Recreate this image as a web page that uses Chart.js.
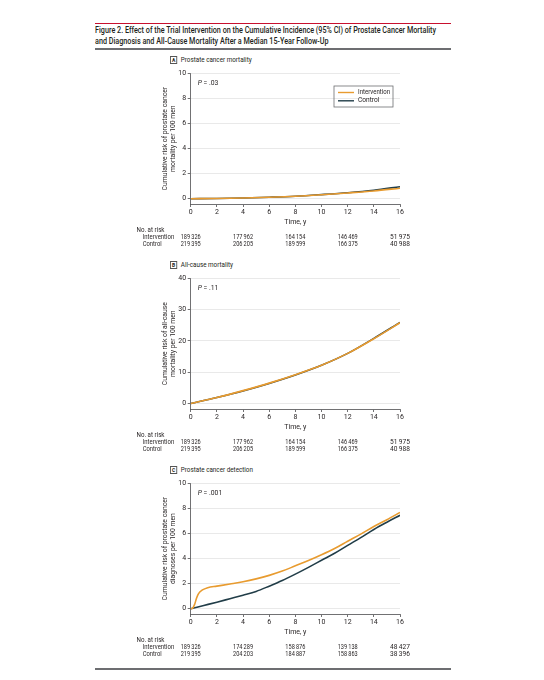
<!DOCTYPE html>
<html>
<head>
<meta charset="utf-8">
<script src="https://cdn.jsdelivr.net/npm/chart.js@4.4.1/dist/chart.umd.min.js"></script>
<style>
  html, body { margin: 0; padding: 0; background: #fff; }
  body {
    width: 544px; height: 680px; position: relative; overflow: hidden;
    font-family: Roboto, 'Liberation Sans', sans-serif;
    color: #231f20;
  }
  .rule { position: absolute; left: 95px; width: 356px; height: 1.5px; }
  .title { position: absolute; left: 95px; top: 25px; font-size: 8.8px; line-height: 11px; font-weight: 500; white-space: nowrap; transform-origin: 0 0; }
  .panel { position: absolute; left: 170px; font-size: 7px; line-height: 9px; white-space: nowrap; transform-origin: 0 50%; }
  .panel span.box {
    display: inline-block; width: 8px; height: 8px; border: 1px solid #555; box-sizing: border-box;
    font-weight: bold; font-size: 5.5px; line-height: 6.5px; text-align: center; margin-right: 4px; vertical-align: middle;
  }
  canvas { position: absolute; left: 0; }
</style>
</head>
<body>
<div class="rule" style="top:22.5px;background:#c8102e"></div>
<div class="title" id="title"><span id="line1">Figure 2. Effect of the Trial Intervention on the Cumulative Incidence (95% CI) of Prostate Cancer Mortality</span><br>and Diagnosis and All-Cause Mortality After a Median 15-Year Follow-Up</div>
<div class="rule" style="top:48px;background:#6d6e71"></div>

<div class="panel" style="top:56px"><span class="box">A</span>Prostate cancer mortality</div>
<div class="panel" style="top:261px"><span class="box">B</span>All-cause mortality</div>
<div class="panel" style="top:466px"><span class="box">C</span>Prostate cancer detection</div>

<canvas id="chartA" width="544" height="200" style="top:50px"></canvas>
<canvas id="chartB" width="544" height="200" style="top:255px"></canvas>
<canvas id="chartC" width="544" height="200" style="top:460px"></canvas>

<div class="rule" style="top:668px;background:#6d6e71"></div>

<script>
// ---- data ----
const riskTimes = [0, 4, 8, 12, 16]

// A: prostate cancer mortality
const mortYears = [0, 2, 4, 6, 8, 10, 12, 14, 16]
const mortIntervention = [0, 0.02, 0.06, 0.12, 0.2, 0.32, 0.46, 0.62, 0.84]
const mortControl = [0, 0.02, 0.06, 0.12, 0.2, 0.33, 0.48, 0.68, 0.96]
const mortRiskIntervention = [189326, 177962, 164154, 146469, 51975]
const mortRiskControl = [219395, 206205, 189599, 166375, 40988]

// B: all-cause mortality
const allYears = [0, 2, 4, 6, 8, 10, 12, 14, 16]
const allIntervention = [0, 1.9, 4.1, 6.5, 9.2, 12.2, 16.0, 20.7, 25.8]
const allControl = [0, 1.9, 4.0, 6.4, 9.1, 12.2, 16.0, 20.8, 25.9]
const allRiskIntervention = [189326, 177962, 164154, 146469, 51975]
const allRiskControl = [219395, 206205, 189599, 166375, 40988]

// C: prostate cancer detection
const detInterventionYears = [0, 0.15, 0.3, 0.45, 0.6, 0.9, 1.3, 2, 3, 4, 5, 6, 7, 8, 9, 10, 11, 12, 13, 14, 15, 16]
const detIntervention = [0, 0.04, 0.35, 0.85, 1.2, 1.5, 1.68, 1.8, 1.97, 2.15, 2.38, 2.66, 3.0, 3.42, 3.84, 4.3, 4.8, 5.38, 5.95, 6.55, 7.1, 7.68]
const detControlYears = [0, 1, 2, 3, 4, 5, 6, 7, 8, 9, 10, 11, 12, 13, 14, 15, 16]
const detControl = [0, 0.26, 0.52, 0.8, 1.08, 1.38, 1.8, 2.25, 2.76, 3.3, 3.86, 4.42, 5.05, 5.67, 6.32, 6.9, 7.45]
const detRiskIntervention = [189326, 174289, 158876, 139138, 48427]
const detRiskControl = [219395, 204203, 184887, 158863, 38396]

const FONT = "Roboto, 'Liberation Sans', sans-serif"
const TEXT = '#231f20'
const ORANGE = '#e89b2f'
const NAVY = '#213d48'

// squeeze the figure title to the width of the rule, like the condensed original
const line1 = document.getElementById('line1')
document.getElementById('title').style.transform = `scaleX(${341 / line1.getBoundingClientRect().width})`
document.querySelectorAll('.panel').forEach(p => { p.style.transform = 'scaleX(0.9)' })

const toPoints = (xs, ys) => xs.map((x, i) => ({ x, y: ys[i] }))
const fmt = n => n.toLocaleString('en-US').replace(',', '\u2009')

// at-risk table, P value and legend box
const annot = {
  id: 'annot',
  afterDraw(chart, args, opts) {
    const { ctx, chartArea, scales } = chart
    ctx.save()
    ctx.fillStyle = TEXT
    ctx.textBaseline = 'middle'

    // P value
    ctx.font = 'italic 6.8px ' + FONT
    ctx.textAlign = 'left'
    const px = chartArea.left + 7
    const py = chartArea.top + 10
    ctx.fillText('P', px, py)
    const w = ctx.measureText('P').width
    ctx.font = '6.8px ' + FONT
    ctx.fillText(' = ' + opts.p, px + w, py)

    // number at risk
    const b = chartArea.bottom
    ctx.font = '6.6px ' + FONT
    ctx.fillText('No. at risk', 136.5, b + 26.7, 28)
    ctx.fillText('Intervention', 142.7, b + 33.7, 31.5)
    ctx.fillText('Control', 142.7, b + 40.5, 19)
    ctx.textAlign = 'center'
    riskTimes.forEach((t, i) => {
      const x = scales.x.getPixelForValue(t)
      ctx.fillText(fmt(opts.intervention[i]), x, b + 33.7, 20)
      ctx.fillText(fmt(opts.control[i]), x, b + 40.5, 20)
    })

    // legend
    if (opts.legend) {
      const bw = 59, bh = 21
      const bx = chartArea.right - 7 - bw
      const by = chartArea.top + 12.7
      ctx.strokeStyle = '#6d6e71'
      ctx.lineWidth = 0.8
      ctx.strokeRect(bx, by, bw, bh)
      ctx.textAlign = 'left'
      ctx.font = '6.6px ' + FONT
      chart.data.datasets.forEach((ds, i) => {
        const ly = by + 6.5 + i * 8.3
        ctx.strokeStyle = ds.borderColor
        ctx.lineWidth = 1.4
        ctx.beginPath()
        ctx.moveTo(bx + 4, ly)
        ctx.lineTo(bx + 20, ly)
        ctx.stroke()
        ctx.fillText(ds.label, bx + 24, ly, 32)
      })
    }
    ctx.restore()
  },
}

const makeChart = (id, cfg) => new Chart(document.getElementById(id), {
  type: 'line',
  data: {
    datasets: [
      { label: 'Intervention', data: cfg.intervention, borderColor: ORANGE },
      { label: 'Control', data: cfg.control, borderColor: NAVY },
    ],
  },
  options: {
    responsive: false,
    animation: false,
    devicePixelRatio: 1,
    parsing: false,
    elements: {
      point: { radius: 0 },
      line: { borderWidth: 1.6, tension: 0.4, cubicInterpolationMode: 'monotone', fill: false },
    },
    layout: { padding: { left: 161.5, right: 144, top: 23.3, bottom: 24 } },
    plugins: {
      legend: { display: false },
      tooltip: { enabled: false },
      annot: { p: cfg.p, intervention: cfg.riskInt, control: cfg.riskCtrl, legend: cfg.legend },
    },
    scales: {
      x: {
        type: 'linear', min: 0, max: 16,
        ticks: { stepSize: 2, font: { size: 7, family: FONT }, color: TEXT, padding: 1.5, maxRotation: 0 },
        grid: { drawOnChartArea: false, tickColor: '#4d4d4f', tickLength: 3, lineWidth: 0.8 },
        border: { color: '#4d4d4f', width: 0.8 },
        title: { display: true, text: 'Time, y', font: { size: 7, family: FONT }, color: TEXT, padding: 0 },
        afterFit: s => { s.height = 22 },
      },
      y: {
        min: cfg.yMin, max: cfg.yMax,
        ticks: { stepSize: cfg.step, includeBounds: false, font: { size: 7, family: FONT }, color: TEXT, padding: 1.5 },
        grid: { color: '#e3e3e3', tickColor: '#4d4d4f', tickLength: 3, lineWidth: 0.8 },
        border: { color: '#4d4d4f', width: 0.8 },
        title: { display: true, text: cfg.yTitle, font: { size: 6.8, family: FONT, lineHeight: 1.13 }, color: TEXT, padding: 0 },
        afterFit: s => { s.width = 190.7 - 161.5 },
      },
    },
  },
  plugins: [annot],
})

makeChart('chartA', {
  intervention: toPoints(mortYears, mortIntervention),
  control: toPoints(mortYears, mortControl),
  yMin: -0.42, yMax: 10, step: 2,
  yTitle: ['Cumulative risk of prostate cancer', 'mortality per 100 men'],
  p: '.03', riskInt: mortRiskIntervention, riskCtrl: mortRiskControl, legend: true,
})

makeChart('chartB', {
  intervention: toPoints(allYears, allIntervention),
  control: toPoints(allYears, allControl),
  yMin: -1.77, yMax: 40, step: 10,
  yTitle: ['Cumulative risk of all-cause', 'mortality per 100 men'],
  p: '.11', riskInt: allRiskIntervention, riskCtrl: allRiskControl, legend: false,
})

makeChart('chartC', {
  intervention: toPoints(detInterventionYears, detIntervention),
  control: toPoints(detControlYears, detControl),
  yMin: -0.42, yMax: 10, step: 2,
  yTitle: ['Cumulative risk of prostate cancer', 'diagnoses per 100 men'],
  p: '.001', riskInt: detRiskIntervention, riskCtrl: detRiskControl, legend: false,
})
</script>
</body>
</html>
